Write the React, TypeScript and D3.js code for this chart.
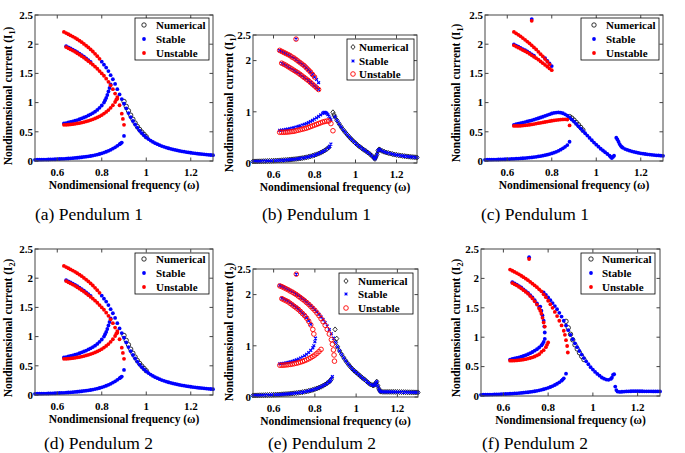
import React from 'react';
import * as d3 from 'd3';

type Pt = [number, number];

// ---------------- Panels (a) and (d): pendulum 1 / pendulum 2 (identical) ----------------
const A_STABLE_LOW: Pt[] = [[0.50,0.020],[0.51,0.021],[0.52,0.022],[0.53,0.023],[0.54,0.024],[0.55,0.025],[0.56,0.026],[0.57,0.027],[0.58,0.029],[0.59,0.030],[0.60,0.032],[0.61,0.034],[0.62,0.036],[0.63,0.038],[0.64,0.040],[0.65,0.043],[0.66,0.046],[0.67,0.049],[0.68,0.052],[0.69,0.056],[0.70,0.060],[0.71,0.064],[0.72,0.069],[0.73,0.074],[0.74,0.080],[0.75,0.086],[0.76,0.093],[0.77,0.101],[0.78,0.110],[0.79,0.120],[0.80,0.131],[0.81,0.144],[0.82,0.158],[0.83,0.174],[0.84,0.192],[0.85,0.212],[0.86,0.234],[0.87,0.259],[0.88,0.287],[0.885,0.300],[0.89,0.315],[0.90,0.430]];
const A_STABLE_UPPER: Pt[] = [[0.80,1.70],[0.81,1.65],[0.82,1.60],[0.83,1.54],[0.84,1.47],[0.85,1.40],[0.86,1.32],[0.87,1.23],[0.88,1.14],[0.89,1.06],[0.90,0.98],[0.91,0.90],[0.92,0.82],[0.93,0.75],[0.94,0.685],[0.95,0.625],[0.96,0.57],[0.97,0.52],[0.98,0.478],[0.99,0.44],[1.00,0.405],[1.01,0.375],[1.02,0.35],[1.03,0.327],[1.04,0.306],[1.05,0.288],[1.06,0.271],[1.07,0.256],[1.08,0.242],[1.09,0.23],[1.10,0.218],[1.11,0.208],[1.12,0.198],[1.13,0.189],[1.14,0.181],[1.15,0.173],[1.16,0.166],[1.17,0.159],[1.18,0.153],[1.19,0.147],[1.20,0.141],[1.21,0.136],[1.22,0.131],[1.23,0.126],[1.24,0.122],[1.25,0.118],[1.26,0.114],[1.27,0.110],[1.28,0.106],[1.29,0.103],[1.30,0.100]];
const A_STABLE_EDGE: Pt[] = [[0.64,1.967],[0.65,1.947],[0.66,1.927],[0.67,1.907],[0.68,1.887],[0.69,1.862],[0.70,1.837],[0.71,1.812],[0.72,1.787],[0.73,1.757],[0.74,1.727],[0.75,1.697]];
const A_STABLE_RISE: Pt[] = [[0.63,0.645],[0.64,0.65],[0.65,0.66],[0.66,0.67],[0.67,0.68],[0.68,0.69],[0.69,0.70],[0.70,0.715],[0.71,0.73],[0.72,0.745],[0.73,0.76],[0.74,0.78],[0.75,0.80],[0.76,0.82],[0.77,0.845],[0.78,0.875],[0.79,0.91],[0.80,0.95],[0.81,1.00],[0.815,1.04],[0.82,1.08],[0.825,1.13],[0.83,1.19],[0.835,1.25],[0.84,1.31]];
const A_UNSTABLE_TOP: Pt[] = [[0.63,2.21],[0.64,2.19],[0.65,2.17],[0.66,2.15],[0.67,2.13],[0.68,2.11],[0.69,2.085],[0.70,2.06],[0.71,2.035],[0.72,2.005],[0.73,1.975],[0.74,1.945],[0.75,1.91],[0.76,1.875],[0.77,1.835],[0.78,1.795],[0.79,1.75]];
const A_UNSTABLE_MID: Pt[] = [[0.64,1.95],[0.65,1.93],[0.66,1.91],[0.67,1.89],[0.68,1.87],[0.69,1.845],[0.70,1.82],[0.71,1.795],[0.72,1.77],[0.73,1.74],[0.74,1.71],[0.75,1.68],[0.76,1.65],[0.77,1.615],[0.78,1.58],[0.79,1.54],[0.80,1.50],[0.81,1.46],[0.82,1.41],[0.83,1.355],[0.84,1.295],[0.85,1.23],[0.86,1.155],[0.87,1.065],[0.88,0.955],[0.89,0.81],[0.895,0.72],[0.90,0.62]];
const A_UNSTABLE_LOW: Pt[] = [[0.63,0.62],[0.64,0.62],[0.65,0.622],[0.66,0.626],[0.67,0.63],[0.68,0.636],[0.69,0.643],[0.70,0.65],[0.71,0.658],[0.72,0.667],[0.73,0.677],[0.74,0.688],[0.75,0.70],[0.76,0.714],[0.77,0.729],[0.78,0.746],[0.79,0.765],[0.80,0.787],[0.81,0.812],[0.82,0.84],[0.83,0.872],[0.84,0.91],[0.85,0.955],[0.86,1.01],[0.865,1.05],[0.87,1.095]];
const A_NUMERICAL: Pt[] = [[0.90,1.02],[0.91,0.935],[0.92,0.86],[0.93,0.785],[0.94,0.715],[0.95,0.65],[0.96,0.59],[0.97,0.54],[0.98,0.495],[0.99,0.455],[1.00,0.415]];

// ---------------- Panel (b) ----------------
const B_LOW: Pt[] = [[0.50,0.030],[0.51,0.031],[0.52,0.032],[0.53,0.033],[0.54,0.034],[0.55,0.036],[0.56,0.037],[0.57,0.039],[0.58,0.040],[0.59,0.042],[0.60,0.044],[0.61,0.046],[0.62,0.048],[0.63,0.050],[0.64,0.053],[0.65,0.056],[0.66,0.059],[0.67,0.062],[0.68,0.066],[0.69,0.070],[0.70,0.074],[0.71,0.079],[0.72,0.084],[0.73,0.090],[0.74,0.096],[0.75,0.103],[0.76,0.111],[0.77,0.120],[0.78,0.130],[0.79,0.141],[0.80,0.154],[0.81,0.168],[0.82,0.184],[0.83,0.202],[0.84,0.222],[0.85,0.245],[0.86,0.272],[0.87,0.305]];
const B_LOW_END: Pt[] = [[0.875,0.33],[0.88,0.37]];
const B_TAIL: Pt[] = [[0.90,0.90],[0.91,0.83],[0.92,0.765],[0.93,0.705],[0.94,0.65],[0.95,0.60],[0.96,0.552],[0.97,0.507],[0.98,0.465],[0.99,0.425],[1.00,0.388],[1.01,0.352],[1.02,0.32],[1.03,0.29],[1.04,0.26],[1.05,0.235],[1.06,0.205],[1.07,0.175],[1.08,0.14],[1.09,0.10],[1.095,0.08]];
const B_TAIL_RIGHT: Pt[] = [[1.10,0.12],[1.105,0.17],[1.11,0.24],[1.115,0.265],[1.12,0.255],[1.13,0.235],[1.14,0.22],[1.15,0.205],[1.16,0.195],[1.17,0.185],[1.18,0.175],[1.19,0.165],[1.20,0.158],[1.21,0.151],[1.22,0.145],[1.23,0.139],[1.24,0.134],[1.25,0.129],[1.26,0.124],[1.27,0.12],[1.28,0.116],[1.29,0.112],[1.30,0.108]];
const B_NUM_PEAK: Pt[] = [[0.89,0.99],[0.895,0.94]];
const B_MID_STABLE: Pt[] = [[0.63,0.64],[0.64,0.645],[0.65,0.65],[0.66,0.657],[0.67,0.664],[0.68,0.672],[0.69,0.681],[0.70,0.691],[0.71,0.702],[0.72,0.714],[0.73,0.727],[0.74,0.741],[0.75,0.756],[0.76,0.772],[0.77,0.79],[0.78,0.81],[0.79,0.832],[0.80,0.856],[0.81,0.882],[0.82,0.91],[0.83,0.94],[0.84,0.97],[0.845,0.985],[0.85,0.99],[0.855,0.985],[0.86,0.97],[0.865,0.945],[0.87,0.915],[0.875,0.88],[0.88,0.845]];
const B_MID_UNSTABLE: Pt[] = [[0.63,0.60],[0.64,0.60],[0.65,0.60],[0.66,0.602],[0.67,0.605],[0.68,0.61],[0.69,0.615],[0.70,0.62],[0.71,0.63],[0.72,0.64],[0.73,0.65],[0.74,0.66],[0.75,0.67],[0.76,0.68],[0.77,0.695],[0.78,0.71],[0.79,0.725],[0.80,0.74],[0.81,0.755],[0.82,0.77],[0.83,0.785],[0.84,0.80],[0.85,0.81],[0.86,0.82],[0.87,0.82],[0.88,0.77],[0.89,0.63]];
const B_TOP: Pt[] = [[0.63,2.20],[0.64,2.18],[0.65,2.16],[0.66,2.14],[0.67,2.12],[0.68,2.10],[0.69,2.07],[0.70,2.05],[0.71,2.02],[0.72,1.99],[0.73,1.96],[0.74,1.93],[0.75,1.90],[0.76,1.86],[0.77,1.82],[0.78,1.78],[0.79,1.73],[0.80,1.68]];
const B_TOP_END: Pt[] = [[0.81,1.63],[0.82,1.57]];
const B_SEC: Pt[] = [[0.64,1.95],[0.65,1.93],[0.66,1.91],[0.67,1.885],[0.68,1.86],[0.69,1.835],[0.70,1.81],[0.71,1.785],[0.72,1.76],[0.73,1.73],[0.74,1.70],[0.75,1.67],[0.76,1.64],[0.77,1.61],[0.78,1.575],[0.79,1.54],[0.80,1.505],[0.81,1.47],[0.82,1.435]];
const B_OUTLIER: Pt[] = [[0.71,2.42]];

// ---------------- Panel (c) ----------------
const C_LOW: Pt[] = [[0.50,0.020],[0.51,0.021],[0.52,0.022],[0.53,0.023],[0.54,0.024],[0.55,0.025],[0.56,0.026],[0.57,0.027],[0.58,0.028],[0.59,0.030],[0.60,0.031],[0.61,0.033],[0.62,0.035],[0.63,0.037],[0.64,0.039],[0.65,0.041],[0.66,0.044],[0.67,0.047],[0.68,0.050],[0.69,0.054],[0.70,0.058],[0.71,0.062],[0.72,0.067],[0.73,0.072],[0.74,0.078],[0.75,0.084],[0.76,0.091],[0.77,0.099],[0.78,0.108],[0.79,0.118],[0.80,0.129],[0.81,0.142],[0.82,0.157],[0.83,0.174],[0.84,0.194],[0.85,0.217],[0.86,0.243],[0.87,0.272],[0.88,0.33]];
const C_MID_STABLE: Pt[] = [[0.63,0.62],[0.64,0.63],[0.65,0.64],[0.66,0.648],[0.67,0.657],[0.68,0.666],[0.69,0.676],[0.70,0.686],[0.71,0.697],[0.72,0.708],[0.73,0.72],[0.74,0.732],[0.75,0.745],[0.76,0.758],[0.77,0.772],[0.78,0.786],[0.79,0.80],[0.80,0.813],[0.81,0.823],[0.82,0.83],[0.83,0.832],[0.84,0.828],[0.85,0.818],[0.86,0.80],[0.87,0.775],[0.88,0.745],[0.89,0.71],[0.90,0.675],[0.91,0.635],[0.92,0.595],[0.93,0.555],[0.94,0.515],[0.95,0.475],[0.96,0.435],[0.97,0.395],[0.98,0.355],[0.99,0.315],[1.00,0.28],[1.01,0.245],[1.02,0.21],[1.03,0.18],[1.04,0.15],[1.05,0.12],[1.06,0.09],[1.065,0.07],[1.07,0.05],[1.075,0.07],[1.08,0.09]];
const C_RIGHT: Pt[] = [[1.09,0.40],[1.095,0.37],[1.10,0.33],[1.105,0.29],[1.11,0.26],[1.115,0.24],[1.12,0.225],[1.13,0.205],[1.14,0.19],[1.15,0.177],[1.16,0.166],[1.17,0.156],[1.18,0.147],[1.19,0.139],[1.20,0.132],[1.21,0.126],[1.22,0.12],[1.23,0.115],[1.24,0.11],[1.25,0.106],[1.26,0.102],[1.27,0.098],[1.28,0.095],[1.29,0.092],[1.30,0.089]];
const C_NUMERICAL: Pt[] = [[0.88,0.76],[0.89,0.735],[0.90,0.70],[0.91,0.66],[0.92,0.62],[0.93,0.575],[0.94,0.53]];
const C_MID_UNSTABLE: Pt[] = [[0.63,0.60],[0.64,0.60],[0.65,0.60],[0.66,0.603],[0.67,0.607],[0.68,0.611],[0.69,0.616],[0.70,0.621],[0.71,0.627],[0.72,0.633],[0.73,0.64],[0.74,0.647],[0.75,0.654],[0.76,0.661],[0.77,0.668],[0.78,0.675],[0.79,0.682],[0.80,0.689],[0.81,0.695],[0.82,0.70],[0.83,0.705],[0.84,0.709],[0.85,0.712],[0.86,0.713],[0.87,0.71],[0.88,0.61]];
const C_TOP: Pt[] = [[0.63,2.21],[0.64,2.185],[0.65,2.16],[0.66,2.135],[0.67,2.105],[0.68,2.075],[0.69,2.045],[0.70,2.015],[0.71,1.98],[0.72,1.945],[0.73,1.91],[0.74,1.87],[0.75,1.83],[0.76,1.79],[0.77,1.745],[0.78,1.70],[0.79,1.655]];
const C_TOP_STABLE: Pt[] = [[0.77,1.76],[0.78,1.715],[0.79,1.67],[0.80,1.625]];
const C_SEC: Pt[] = [[0.63,1.98],[0.64,1.96],[0.65,1.94],[0.66,1.92],[0.67,1.90],[0.68,1.88],[0.69,1.86],[0.70,1.835],[0.71,1.81],[0.72,1.785],[0.73,1.76],[0.74,1.735],[0.75,1.705],[0.76,1.675],[0.77,1.645],[0.78,1.615],[0.79,1.585],[0.80,1.555]];
const C_SEC_STABLE: Pt[] = [[0.63,1.997],[0.64,1.977],[0.65,1.957],[0.66,1.937],[0.67,1.917],[0.68,1.897],[0.69,1.877],[0.70,1.852],[0.71,1.827],[0.72,1.802]];
const C_OUT_STABLE: Pt[] = [[0.71,2.43]];
const C_OUT_UNSTABLE: Pt[] = [[0.71,2.40]];

// ---------------- Panel (e) ----------------
const E_LOW: Pt[] = [[0.50,0.030],[0.51,0.031],[0.52,0.032],[0.53,0.033],[0.54,0.034],[0.55,0.035],[0.56,0.037],[0.57,0.038],[0.58,0.040],[0.59,0.041],[0.60,0.043],[0.61,0.045],[0.62,0.047],[0.63,0.049],[0.64,0.052],[0.65,0.055],[0.66,0.058],[0.67,0.061],[0.68,0.065],[0.69,0.069],[0.70,0.073],[0.71,0.078],[0.72,0.083],[0.73,0.089],[0.74,0.095],[0.75,0.102],[0.76,0.110],[0.77,0.119],[0.78,0.129],[0.79,0.140],[0.80,0.153],[0.81,0.167],[0.82,0.183],[0.83,0.201],[0.84,0.221],[0.85,0.244],[0.86,0.271],[0.87,0.30],[0.875,0.32],[0.88,0.35]];
const E_LOW_END: Pt[] = [[0.885,0.40]];
const E_UPPER_LEFT: Pt[] = [[0.63,2.18],[0.64,2.16],[0.65,2.14],[0.66,2.12],[0.67,2.10],[0.68,2.08],[0.69,2.055],[0.70,2.03],[0.71,2.005],[0.72,1.98],[0.73,1.95],[0.74,1.92],[0.75,1.89],[0.76,1.855],[0.77,1.82],[0.78,1.785],[0.79,1.745],[0.80,1.705],[0.81,1.66],[0.82,1.615],[0.83,1.565],[0.84,1.51],[0.85,1.45],[0.86,1.385],[0.87,1.315],[0.88,1.235],[0.89,1.15]];
const E_TAIL: Pt[] = [[0.90,1.065],[0.91,0.98],[0.92,0.90],[0.93,0.83],[0.94,0.765],[0.95,0.705],[0.96,0.65],[0.97,0.60],[0.98,0.555],[0.99,0.515],[1.00,0.48],[1.01,0.445],[1.02,0.41],[1.03,0.375],[1.04,0.345],[1.05,0.31],[1.06,0.275],[1.07,0.245],[1.08,0.23],[1.085,0.23],[1.09,0.24],[1.095,0.27],[1.10,0.30]];
const E_TAIL_RIGHT: Pt[] = [[1.105,0.22],[1.11,0.16],[1.115,0.12],[1.12,0.105],[1.13,0.10],[1.14,0.10],[1.15,0.10],[1.16,0.10],[1.17,0.10],[1.18,0.10],[1.19,0.099],[1.20,0.098],[1.21,0.097],[1.22,0.096],[1.23,0.095],[1.24,0.094],[1.25,0.093],[1.26,0.092],[1.27,0.092],[1.28,0.091],[1.29,0.090],[1.30,0.090]];
const E_NUM_PEAK: Pt[] = [[0.898,1.32],[0.906,1.14]];
const E_TOP_UNSTABLE: Pt[] = [[0.63,2.17],[0.64,2.155],[0.65,2.135],[0.66,2.115],[0.67,2.095],[0.68,2.07],[0.69,2.05],[0.70,2.025],[0.71,2.0],[0.72,1.97],[0.73,1.94],[0.74,1.91],[0.75,1.88],[0.76,1.845],[0.77,1.81],[0.78,1.77],[0.79,1.73],[0.80,1.69],[0.81,1.64],[0.82,1.59],[0.83,1.53],[0.84,1.47],[0.85,1.40],[0.86,1.32],[0.87,1.23],[0.88,1.12],[0.885,1.03],[0.89,0.92],[0.893,0.82],[0.895,0.70]];
const E_SEC_UNSTABLE: Pt[] = [[0.64,1.92],[0.65,1.90],[0.66,1.88],[0.67,1.86],[0.68,1.83],[0.69,1.80],[0.70,1.77],[0.71,1.74],[0.72,1.71],[0.73,1.67],[0.74,1.63],[0.75,1.59],[0.76,1.54],[0.77,1.48],[0.78,1.41],[0.79,1.32],[0.795,1.23]];
const E_SEC_STABLE: Pt[] = [[0.64,1.93],[0.65,1.91],[0.66,1.89],[0.67,1.87],[0.68,1.84],[0.69,1.81],[0.70,1.78],[0.71,1.75],[0.72,1.72],[0.73,1.68],[0.74,1.64],[0.75,1.60],[0.76,1.55],[0.77,1.49],[0.78,1.42]];
const E_RISE: Pt[] = [[0.63,0.65],[0.64,0.655],[0.65,0.66],[0.66,0.668],[0.67,0.676],[0.68,0.686],[0.69,0.697],[0.70,0.71],[0.71,0.725],[0.72,0.742],[0.73,0.76],[0.74,0.78],[0.75,0.805],[0.76,0.835],[0.77,0.87],[0.78,0.91],[0.79,0.96],[0.795,1.0],[0.80,1.08],[0.803,1.15]];
const E_LOW_UNSTABLE: Pt[] = [[0.63,0.62],[0.64,0.62],[0.65,0.622],[0.66,0.626],[0.67,0.63],[0.68,0.636],[0.69,0.643],[0.70,0.651],[0.71,0.66],[0.72,0.67],[0.73,0.682],[0.74,0.695],[0.75,0.71],[0.76,0.727],[0.77,0.746],[0.78,0.768],[0.79,0.793],[0.80,0.82],[0.81,0.852],[0.82,0.888],[0.83,0.93]];
const E_OUTLIER: Pt[] = [[0.71,2.40]];

// ---------------- Panel (f) ----------------
const F_LOW: Pt[] = [[0.50,0.020],[0.51,0.021],[0.52,0.022],[0.53,0.023],[0.54,0.024],[0.55,0.025],[0.56,0.026],[0.57,0.027],[0.58,0.029],[0.59,0.030],[0.60,0.032],[0.61,0.034],[0.62,0.036],[0.63,0.038],[0.64,0.040],[0.65,0.043],[0.66,0.046],[0.67,0.049],[0.68,0.052],[0.69,0.056],[0.70,0.060],[0.71,0.064],[0.72,0.069],[0.73,0.075],[0.74,0.081],[0.75,0.088],[0.76,0.096],[0.77,0.105],[0.78,0.115],[0.79,0.126],[0.80,0.139],[0.81,0.153],[0.82,0.169],[0.83,0.187],[0.84,0.208],[0.85,0.232],[0.86,0.26],[0.865,0.28],[0.87,0.30],[0.88,0.38]];
const F_RISE: Pt[] = [[0.63,0.62],[0.64,0.63],[0.65,0.638],[0.66,0.647],[0.67,0.657],[0.68,0.668],[0.69,0.68],[0.70,0.694],[0.71,0.71],[0.72,0.728],[0.73,0.748],[0.74,0.77],[0.75,0.795],[0.76,0.825],[0.77,0.86],[0.775,0.885],[0.78,0.92],[0.785,0.97]];
const F_SEC_COLUMN: Pt[] = [[0.765,1.52],[0.77,1.45],[0.775,1.37],[0.78,1.28],[0.783,1.18],[0.785,1.08]];
const F_SEC_EDGE: Pt[] = [[0.64,1.935],[0.65,1.915],[0.66,1.895],[0.67,1.87],[0.68,1.845],[0.69,1.815],[0.70,1.785],[0.71,1.755],[0.72,1.715],[0.73,1.675],[0.74,1.63],[0.75,1.575],[0.76,1.515]];
const F_UPPER: Pt[] = [[0.78,1.76],[0.79,1.72],[0.80,1.675],[0.81,1.63],[0.82,1.58],[0.83,1.53],[0.84,1.475],[0.85,1.415],[0.86,1.35],[0.87,1.28],[0.88,1.20],[0.89,1.12],[0.90,1.04],[0.91,0.965],[0.92,0.895],[0.93,0.83],[0.94,0.765],[0.95,0.705],[0.96,0.645],[0.97,0.59],[0.98,0.54],[0.99,0.49],[1.00,0.45],[1.01,0.41],[1.02,0.375],[1.03,0.345],[1.04,0.315],[1.05,0.295],[1.06,0.28],[1.07,0.275],[1.08,0.29],[1.085,0.31],[1.09,0.36],[1.095,0.37]];
const F_TAIL_RIGHT: Pt[] = [[1.10,0.16],[1.105,0.10],[1.11,0.075],[1.12,0.070],[1.13,0.072],[1.14,0.075],[1.15,0.078],[1.16,0.080],[1.17,0.081],[1.18,0.082],[1.19,0.082],[1.20,0.082],[1.21,0.081],[1.22,0.081],[1.23,0.080],[1.24,0.080],[1.25,0.079],[1.26,0.079],[1.27,0.078],[1.28,0.078],[1.29,0.077],[1.30,0.077]];
const F_NUMERICAL: Pt[] = [[0.88,1.27],[0.89,1.16],[0.90,1.05],[0.91,0.955],[0.92,0.87],[0.93,0.80],[0.94,0.735],[0.95,0.675],[0.96,0.62]];
const F_TOP: Pt[] = [[0.63,2.15],[0.64,2.13],[0.65,2.11],[0.66,2.09],[0.67,2.07],[0.68,2.045],[0.69,2.02],[0.70,1.995],[0.71,1.97],[0.72,1.94],[0.73,1.91],[0.74,1.88],[0.75,1.85],[0.76,1.815],[0.77,1.78],[0.78,1.73],[0.79,1.68],[0.80,1.62],[0.81,1.56],[0.82,1.50],[0.83,1.43],[0.84,1.36],[0.85,1.28],[0.86,1.20],[0.87,1.11],[0.875,1.04],[0.88,0.95],[0.885,0.85],[0.888,0.74]];
const F_SEC: Pt[] = [[0.64,1.92],[0.65,1.90],[0.66,1.88],[0.67,1.855],[0.68,1.83],[0.69,1.80],[0.70,1.77],[0.71,1.74],[0.72,1.70],[0.73,1.66],[0.74,1.61],[0.75,1.555],[0.76,1.49],[0.765,1.45],[0.77,1.40],[0.775,1.33],[0.78,1.25],[0.785,1.18]];
const F_LOW_UNSTABLE: Pt[] = [[0.63,0.60],[0.64,0.60],[0.65,0.602],[0.66,0.605],[0.67,0.609],[0.68,0.614],[0.69,0.62],[0.70,0.627],[0.71,0.636],[0.72,0.646],[0.73,0.658],[0.74,0.672],[0.75,0.69],[0.76,0.71],[0.77,0.75],[0.78,0.78],[0.79,0.83],[0.795,0.87],[0.80,0.91]];
const F_OUT_STABLE: Pt[] = [[0.715,2.36]];
const F_OUT_UNSTABLE: Pt[] = [[0.715,2.33]];

// ---------------- axes / text ----------------
const X_DOMAIN: [number, number] = [0.5, 1.3];
const Y_DOMAIN: [number, number] = [0, 2.5];
const X_TICKS = [0.6, 0.8, 1.0, 1.2];
const X_TICK_LABELS = ['0.6', '0.8', '1', '1.2'];
const Y_TICKS_FULL = [0, 0.5, 1, 1.5, 2, 2.5];
const Y_TICK_LABELS_FULL = ['0', '0.5', '1', '1.5', '2', '2.5'];
const Y_TICKS_SPARSE = [0, 1, 2, 2.5];
const Y_TICK_LABELS_SPARSE = ['0', '1', '2', '2.5'];
const SERIES_NAMES = ['Numerical', 'Stable', 'Unstable'];
const CAPTIONS = ['(a) Pendulum 1', '(b) Pendulum 1', '(c) Pendulum 1', '(d) Pendulum 2', '(e) Pendulum 2', '(f) Pendulum 2'];
const X_TITLE = 'Nondimensional frequency (\u03c9)';
const Y_TITLE = 'Nondimensional current';
const PENDULUM_SUB = ['1', '1', '1', '2', '2', '2'];

const BLUE = '#0000ff';
const RED = '#ff0000';
const SERIF = '"Liberation Serif", "DejaVu Serif", "Times New Roman", Times, serif';

type MarkerKind = 'numCircle' | 'numDiamond' | 'dotBlue' | 'dotRed' | 'xBlue' | 'circRed';

interface PanelCfg {
  box: [number, number, number, number];
  markers: [MarkerKind, MarkerKind, MarkerKind];
  sparse: boolean;
  numerical: Pt[][];
  stable: Pt[][];
  unstable: Pt[][];
  legend: { x: number; y: number; w: number; h: number; mx: number; tx: number; rows: number[] };
  yTitle: [number, number];
  caption: [number, number];
}

const DOTS: [MarkerKind, MarkerKind, MarkerKind] = ['numCircle', 'dotBlue', 'dotRed'];
const MIXED: [MarkerKind, MarkerKind, MarkerKind] = ['numDiamond', 'xBlue', 'circRed'];

const PANELS: PanelCfg[] = [
  {
    box: [35, 213, 15, 161], markers: DOTS, sparse: false,
    numerical: [A_NUMERICAL],
    stable: [A_STABLE_LOW, A_STABLE_UPPER, A_STABLE_EDGE, A_STABLE_RISE],
    unstable: [A_UNSTABLE_TOP, A_UNSTABLE_MID, A_UNSTABLE_LOW],
    legend: { x: 135, y: 18, w: 74, h: 42, mx: 144, tx: 156, rows: [25, 39, 53] },
    yTitle: [8, 96], caption: [35, 220],
  },
  {
    box: [253, 417, 35, 163], markers: MIXED, sparse: true,
    numerical: [B_LOW, B_NUM_PEAK, B_TAIL, B_TAIL_RIGHT],
    stable: [B_LOW, B_LOW_END, B_MID_STABLE, B_TAIL, B_TAIL_RIGHT, B_TOP, B_TOP_END, B_SEC, B_OUTLIER],
    unstable: [B_TOP, B_SEC, B_MID_UNSTABLE, B_OUTLIER],
    legend: { x: 347, y: 39, w: 67, h: 41, mx: 353, tx: 359, rows: [47, 61, 74] },
    yTitle: [229, 103], caption: [262, 220],
  },
  {
    box: [485, 663, 15, 161], markers: DOTS, sparse: false,
    numerical: [C_NUMERICAL],
    stable: [C_LOW, C_MID_STABLE, C_RIGHT, C_TOP_STABLE, C_SEC_STABLE, C_OUT_STABLE],
    unstable: [C_TOP, C_SEC, C_MID_UNSTABLE, C_OUT_UNSTABLE],
    legend: { x: 581, y: 18, w: 78, h: 42, mx: 594, tx: 606, rows: [25, 39, 53] },
    yTitle: [456, 93], caption: [481, 220],
  },
  {
    box: [35, 213, 249, 395], markers: DOTS, sparse: false,
    numerical: [A_NUMERICAL],
    stable: [A_STABLE_LOW, A_STABLE_UPPER, A_STABLE_EDGE, A_STABLE_RISE],
    unstable: [A_UNSTABLE_TOP, A_UNSTABLE_MID, A_UNSTABLE_LOW],
    legend: { x: 135, y: 253, w: 74, h: 41, mx: 144, tx: 156, rows: [259, 273, 287] },
    yTitle: [8, 328], caption: [44, 449],
  },
  {
    box: [253, 418, 269, 397], markers: MIXED, sparse: true,
    numerical: [E_LOW, E_NUM_PEAK, E_TAIL, E_TAIL_RIGHT],
    stable: [E_LOW, E_LOW_END, E_RISE, E_UPPER_LEFT, E_TAIL, E_TAIL_RIGHT, E_SEC_STABLE, E_OUTLIER],
    unstable: [E_TOP_UNSTABLE, E_SEC_UNSTABLE, E_LOW_UNSTABLE, E_OUTLIER],
    legend: { x: 339, y: 273, w: 74, h: 41, mx: 346, tx: 358, rows: [281, 294, 308] },
    yTitle: [229, 332], caption: [268, 449],
  },
  {
    box: [481, 660, 249, 396], markers: DOTS, sparse: false,
    numerical: [F_NUMERICAL],
    stable: [F_LOW, F_RISE, F_SEC_EDGE, F_SEC_COLUMN, F_UPPER, F_TAIL_RIGHT, F_OUT_STABLE],
    unstable: [F_TOP, F_SEC, F_LOW_UNSTABLE, F_OUT_UNSTABLE],
    legend: { x: 581, y: 253, w: 74, h: 41, mx: 591, tx: 602, rows: [259, 273, 287] },
    yTitle: [456, 328], caption: [482, 449],
  },
];

function marker(kind: MarkerKind, x: number, y: number, key: string) {
  switch (kind) {
    case 'numCircle':
      return <circle key={key} cx={x} cy={y} r={2.2} fill="none" stroke="#000" strokeWidth={0.8} />;
    case 'numDiamond':
      return <path key={key} d={`M${x},${y - 2.5}L${x + 2.1},${y}L${x},${y + 2.5}L${x - 2.1},${y}Z`} fill="none" stroke="#000" strokeWidth={0.8} />;
    case 'dotBlue':
      return <circle key={key} cx={x} cy={y} r={1.9} fill={BLUE} />;
    case 'dotRed':
      return <circle key={key} cx={x} cy={y} r={1.9} fill={RED} />;
    case 'xBlue':
      return <path key={key} d={`M${x - 1.4},${y - 1.4}L${x + 1.4},${y + 1.4}M${x - 1.4},${y + 1.4}L${x + 1.4},${y - 1.4}`} stroke={BLUE} strokeWidth={1.2} fill="none" />;
    case 'circRed':
      return <circle key={key} cx={x} cy={y} r={2.3} fill="none" stroke={RED} strokeWidth={0.9} />;
  }
}

const tickText = { fontFamily: SERIF, fontWeight: 700 as const, fontSize: '11px' };
const titleText = { fontFamily: SERIF, fontWeight: 700 as const, fontSize: '11.5px' };
const legendText = { fontFamily: SERIF, fontWeight: 700 as const, fontSize: '11px' };

function Panel({ cfg, idx }: { cfg: PanelCfg; idx: number }) {
  const [x0, x1, y0, y1] = cfg.box;
  const xs = d3.scaleLinear().domain(X_DOMAIN).range([x0, x1]);
  const ys = d3.scaleLinear().domain(Y_DOMAIN).range([y1, y0]);
  const yTicks = cfg.sparse ? Y_TICKS_SPARSE : Y_TICKS_FULL;
  const yLabels = cfg.sparse ? Y_TICK_LABELS_SPARSE : Y_TICK_LABELS_FULL;
  const groups: [Pt[][], MarkerKind][] = [
    [cfg.numerical, cfg.markers[0]],
    [cfg.stable, cfg.markers[1]],
    [cfg.unstable, cfg.markers[2]],
  ];
  const tl = 3.5;
  const axisColor = '#444';
  const lg = cfg.legend;
  return (
    <g>
      {groups.map(([branches, kind], gi) => (
        <g key={gi}>
          {branches.map((br, bi) =>
            br.map((p, pi) => marker(kind, xs(p[0]), ys(p[1]), `${gi}-${bi}-${pi}`))
          )}
        </g>
      ))}
      <rect x={x0} y={y0} width={x1 - x0} height={y1 - y0} fill="none" stroke={axisColor} strokeWidth={1} />
      {X_TICKS.map((t, i) => (
        <g key={'xt' + i}>
          <line x1={xs(t)} x2={xs(t)} y1={y1} y2={y1 - tl} stroke={axisColor} />
          <line x1={xs(t)} x2={xs(t)} y1={y0} y2={y0 + tl} stroke={axisColor} />
          <text x={xs(t)} y={y1 + 14.5} textAnchor="middle" style={tickText}>{X_TICK_LABELS[i]}</text>
        </g>
      ))}
      {yTicks.map((t, i) => (
        <g key={'yt' + i}>
          <line x1={x0} x2={x0 + tl} y1={ys(t)} y2={ys(t)} stroke={axisColor} />
          <line x1={x1} x2={x1 - tl} y1={ys(t)} y2={ys(t)} stroke={axisColor} />
          <text x={x0 - 2} y={ys(t) + 3.8} textAnchor="end" style={tickText}>{yLabels[i]}</text>
        </g>
      ))}
      <text x={(x0 + x1) / 2} y={y1 + 27.5} textAnchor="middle" style={titleText}>{X_TITLE}</text>
      <text transform={`translate(${cfg.yTitle[0] + 4},${cfg.yTitle[1]}) rotate(-90)`} textAnchor="middle" style={titleText}>
        {Y_TITLE + ' (I'}
        <tspan style={{ fontSize: '8px' }} dy={2.5}>{PENDULUM_SUB[idx]}</tspan>
        <tspan dy={-2.5}>)</tspan>
      </text>
      <rect x={lg.x} y={lg.y} width={lg.w} height={lg.h} fill="#fff" stroke="#000" strokeWidth={0.8} />
      {SERIES_NAMES.map((name, i) => (
        <g key={'lg' + i}>
          {marker(cfg.markers[i], lg.mx, lg.rows[i], 'lm' + i)}
          <text x={lg.tx} y={lg.rows[i] + 3.8} style={legendText}>{name}</text>
        </g>
      ))}
      <text x={cfg.caption[0]} y={cfg.caption[1]} style={{ fontFamily: SERIF, fontSize: '17.5px' }}>{CAPTIONS[idx]}</text>
    </g>
  );
}

export default function App() {
  return (
    <svg width={685} height={453} viewBox="0 0 685 453" style={{ position: 'absolute', left: 0, top: 0, background: '#fff', fontFamily: SERIF }}>
      <rect x={0} y={0} width={685} height={453} fill="#fff" />
      {PANELS.map((p, i) => <Panel key={i} cfg={p} idx={i} />)}
    </svg>
  );
}
